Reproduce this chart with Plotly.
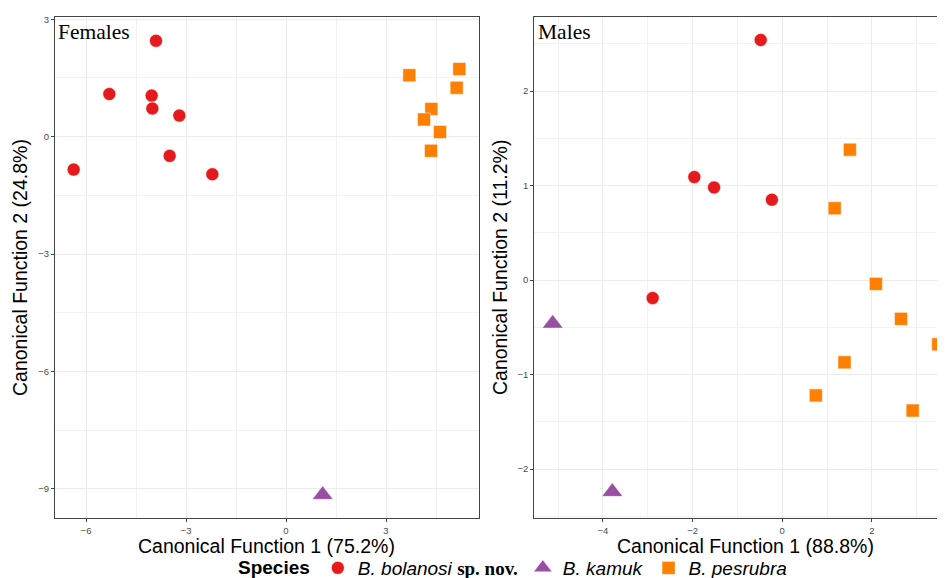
import plotly.graph_objects as go

# ---------------- data ----------------
species = ["B. bolanosi", "B. kamuk", "B. pesrubra"]
legend_names = [
    "<i>B. bolanosi</i> <span style='font-family:Liberation Serif'><b>sp. nov.</b></span>",
    "<i>B. kamuk</i>",
    "<i>B. pesrubra</i>",
]
colors = ["#E41A1C", "#984EA3", "#FF7F00"]
symbols = ["circle", "triangle-up", "square"]

# Females
f_bol_x = [-3.90, -5.30, -4.03, -4.01, -3.20, -3.49, -6.37, -2.21]
f_bol_y = [2.45, 1.09, 1.05, 0.72, 0.54, -0.49, -0.84, -0.96]
f_kam_x = [1.10]
f_kam_y = [-9.15]
f_pes_x = [3.70, 5.20, 5.12, 4.36, 4.14, 4.62, 4.35]
f_pes_y = [1.57, 1.73, 1.25, 0.71, 0.44, 0.12, -0.36]

# Males
m_bol_x = [-0.48, -1.96, -1.52, -0.23, -2.89]
m_bol_y = [2.54, 1.09, 0.98, 0.85, -0.19]
m_kam_x = [-5.12, -3.79]
m_kam_y = [-0.46, -2.24]
m_pes_x = [1.51, 1.17, 2.09, 2.65, 3.48, 1.39, 0.75, 2.91]
m_pes_y = [1.38, 0.76, -0.04, -0.41, -0.68, -0.87, -1.22, -1.38]

female_x_title = "Canonical Function 1 (75.2%)"
female_y_title = "Canonical Function 2 (24.8%)"
male_x_title = "Canonical Function 1 (88.8%)"
male_y_title = "Canonical Function 2 (11.2%)"

# ---------------- figure ----------------
fig = go.Figure()
sizes = [13, 18, 13]

fem = [(f_bol_x, f_bol_y), (f_kam_x, f_kam_y), (f_pes_x, f_pes_y)]
mal = [(m_bol_x, m_bol_y), (m_kam_x, m_kam_y), (m_pes_x, m_pes_y)]

for i, (xs, ys) in enumerate(fem):
    fig.add_trace(go.Scatter(
        x=xs, y=ys, mode="markers", name=legend_names[i], legendgroup=species[i],
        marker=dict(color=colors[i], symbol=symbols[i], size=sizes[i],
                    line=dict(color="white", width=0.5)),
        xaxis="x", yaxis="y", showlegend=True))
for i, (xs, ys) in enumerate(mal):
    fig.add_trace(go.Scatter(
        x=xs, y=ys, mode="markers", name=legend_names[i], legendgroup=species[i],
        marker=dict(color=colors[i], symbol=symbols[i], size=sizes[i],
                    line=dict(color="white", width=0.5)),
        xaxis="x2", yaxis="y2", showlegend=False))

W, H = 945, 578
OFF = 8  # page body margin
grid = "#EBEBEB"
tickfont = dict(family="Liberation Sans", size=9.5, color="#4D4D4D")

def px(v):
    return (v - OFF) / W

def py(v):
    return 1 - (v - OFF) / H

def ax(domain, rng, dtick, anchor):
    return dict(
        domain=domain, range=rng, dtick=dtick, tick0=0, anchor=anchor,
        showgrid=True, gridcolor=grid, gridwidth=1, zeroline=False,
        minor=dict(dtick=dtick / 2, tick0=0, showgrid=True, gridcolor="#F2F2F2",
                   gridwidth=0.6, ticklen=0),
        showline=True, linecolor="#444444", linewidth=1, mirror=True,
        ticks="outside", ticklen=3, tickcolor="#444444", tickwidth=1,
        tickfont=tickfont, automargin=False)

y_dom = [py(518.3), py(17.3)]
fig.update_layout(
    width=W, height=H,
    margin=dict(l=0, r=0, t=0, b=0, autoexpand=False),
    plot_bgcolor="white", paper_bgcolor="white",
    xaxis=ax([px(55), px(479)], [-6.93, 5.79], 3, "y"),
    yaxis=ax(y_dom, [-9.75, 3.05], 3, "x"),
    xaxis2=ax([px(534.3), 1.0], [-5.53, 3.81], 2, "y2"),
    yaxis2=ax(y_dom, [-2.52, 2.78], 1, "x2"),
    legend=dict(
        orientation="h", x=px(514), xanchor="center", y=py(587), yanchor="bottom",
        title=dict(text="<b>Species</b>", font=dict(size=19, family="Liberation Sans", color="black")),
        font=dict(size=19, family="Liberation Sans", color="black"),
        tracegroupgap=0, bgcolor="rgba(0,0,0,0)"),
    showlegend=True,
)

afont = dict(family="Liberation Sans", size=19.5, color="black")
annos = [
    dict(text=female_x_title, x=px(266), y=py(546)),
    dict(text=male_x_title, x=px(745), y=py(546)),
    dict(text=female_y_title, x=px(20), y=py(268), textangle=-90),
    dict(text=male_y_title, x=px(500), y=py(268), textangle=-90),
]
for a in annos:
    fig.add_annotation(xref="paper", yref="paper", showarrow=False,
                       xanchor="center", yanchor="middle", font=afont, **a)

fig.add_annotation(text="Females", xref="paper", yref="paper", x=px(56), y=py(32),
                   xanchor="left", yanchor="middle", showarrow=False,
                   font=dict(family="Liberation Serif", size=21.5, color="black"))
fig.add_annotation(text="Males", xref="paper", yref="paper", x=px(536), y=py(32),
                   xanchor="left", yanchor="middle", showarrow=False,
                   font=dict(family="Liberation Serif", size=21.5, color="black"))

fig.write_html("out.html")
